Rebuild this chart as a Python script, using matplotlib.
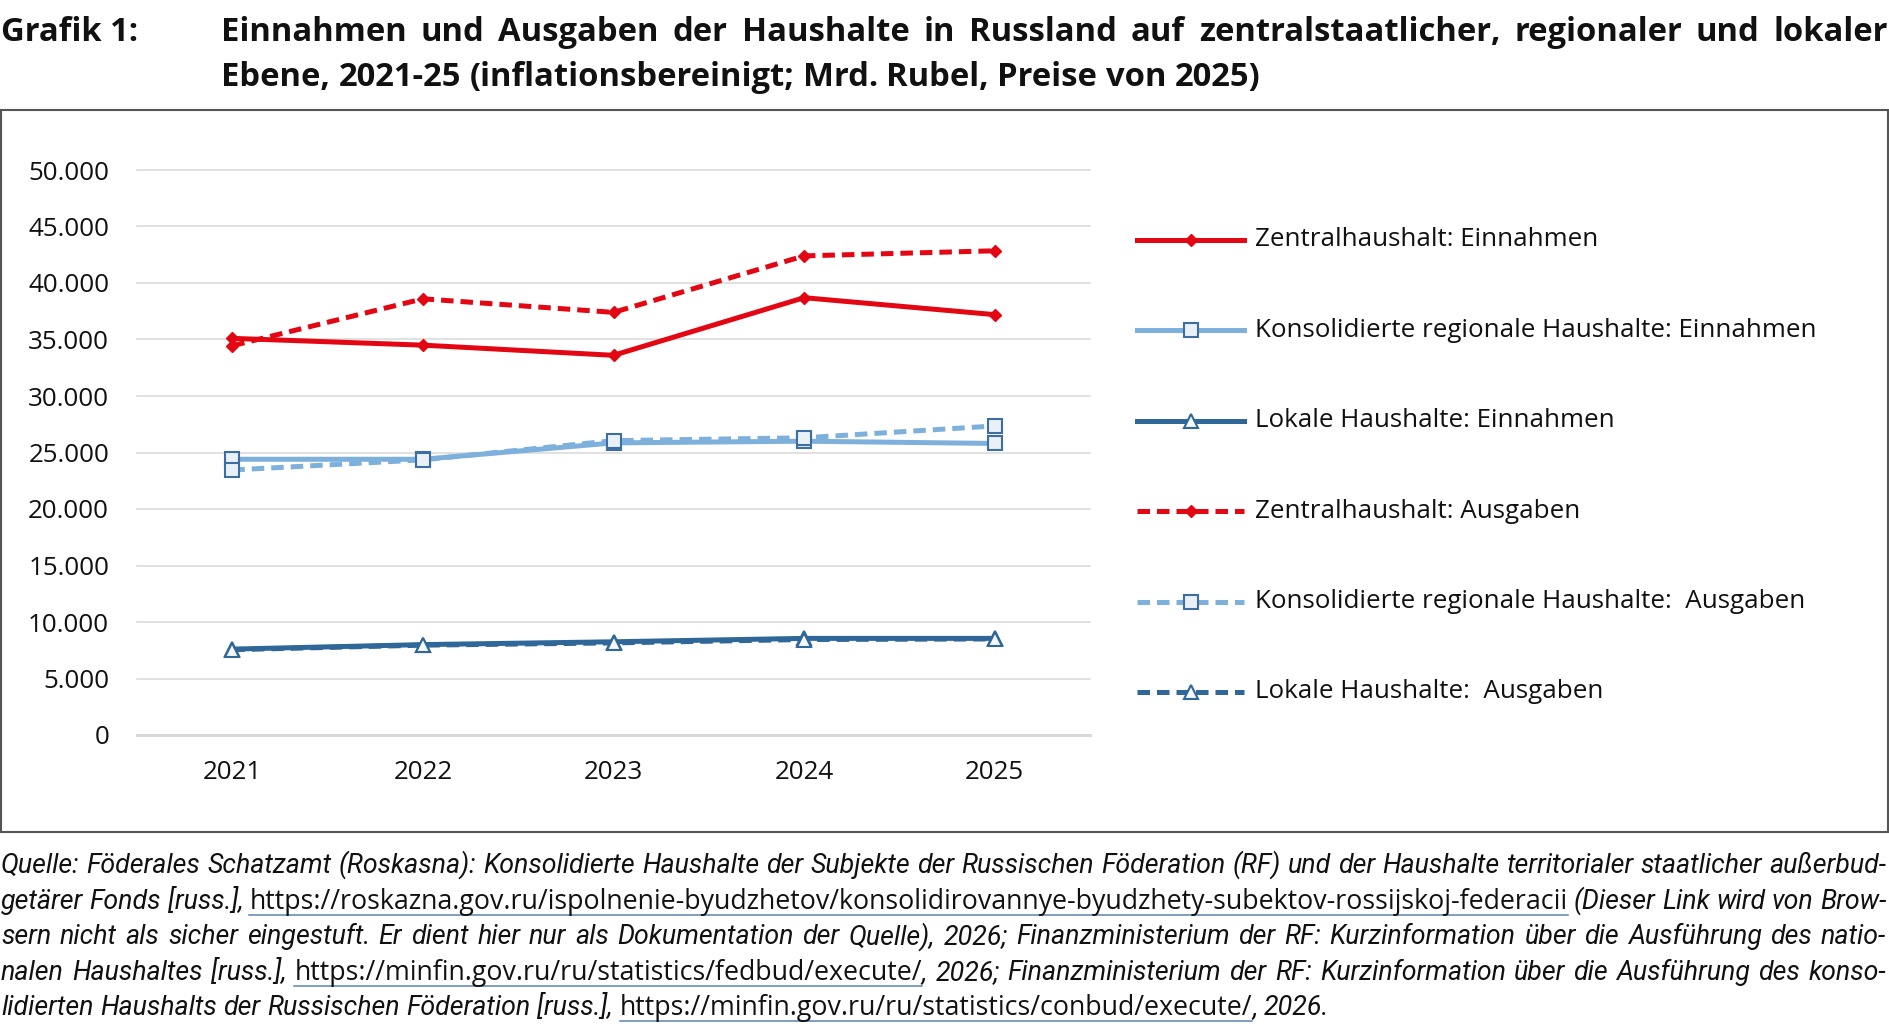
import matplotlib
matplotlib.use('Agg')
import matplotlib.pyplot as plt
from matplotlib.lines import Line2D
from matplotlib.patches import Rectangle
from matplotlib.transforms import IdentityTransform

# Werte (Mrd. Rubel, Preise von 2025)
years = ['2021', '2022', '2023', '2024', '2025']
zentral_einnahmen = [35100, 34500, 33600, 38700, 37200]
regional_einnahmen = [24400, 24400, 25850, 26000, 25800]
lokal_einnahmen = [7600, 8000, 8250, 8550, 8550]
zentral_ausgaben = [34450, 38600, 37400, 42400, 42850]
regional_ausgaben = [23450, 24350, 26050, 26300, 27350]
lokal_ausgaben = [7550, 7950, 8150, 8450, 8500]

series_labels = ['Zentralhaushalt: Einnahmen',
                 'Konsolidierte regionale Haushalte: Einnahmen',
                 'Lokale Haushalte: Einnahmen',
                 'Zentralhaushalt: Ausgaben',
                 'Konsolidierte regionale Haushalte:  Ausgaben',
                 'Lokale Haushalte:  Ausgaben']

title_lead = 'Grafik 1:'
title_line1 = 'Einnahmen und Ausgaben der Haushalte in Russland auf zentralstaatlicher, regionaler und lokaler'
title_line2 = 'Ebene, 2021-25 (inflationsbereinigt; Mrd. Rubel, Preise von 2025)'

# Quellenangabe: (Text, Stil) je Zeile
source_lines = [
    [('Quelle: Föderales Schatzamt (Roskasna): Konsolidierte Haushalte der Subjekte der Russischen '
      'Föderation (RF) und der Haushalte territorialer staatlicher außerbud-', 'it')],
    [('getärer Fonds [russ.], ', 'it'),
     ('https://roskazna.gov.ru/ispolnenie-byudzhetov/konsolidirovannye-byudzhety-subektov-rossijskoj-federacii', 'url'),
     (' (Dieser Link wird von Brow-', 'it')],
    [('sern nicht als sicher eingestuft. Er dient hier nur als Dokumentation der Quelle), 2026; '
      'Finanzministerium der RF: Kurzinformation über die Ausführung des natio-', 'it')],
    [('nalen Haushaltes [russ.], ', 'it'),
     ('https://minfin.gov.ru/ru/statistics/fedbud/execute/', 'url'),
     (', 2026; Finanzministerium der RF: Kurzinformation über die Ausführung des konso-', 'it')],
    [('lidierten Haushalts der Russischen Föderation [russ.], ', 'it'),
     ('https://minfin.gov.ru/ru/statistics/conbud/execute/', 'url'),
     (', 2026.', 'it')],
]

W, H = 1890, 1034
RED = '#E30613'
LIGHT = '#7EB0DC'
DARK = '#2F6798'

fig = plt.figure(figsize=(W / 100, H / 100), dpi=100)
ax = fig.add_axes([137 / W, 1 - 735 / H, (1090 - 137) / W, (735 - 170) / H])

solid = '-'
dashed = (0, (2.5, 1.4))
styles = [
    dict(color=RED, lw=3.6, ls=solid, marker='D', ms=6, mfc=RED, mec=RED),
    dict(color=LIGHT, lw=3.6, ls=solid, marker='s', ms=9.5, mfc='#EAF0F8', mec='#3C6DA3', mew=1.5),
    dict(color=DARK, lw=3.6, ls=solid, marker='^', ms=10, mfc='#F4F7FB', mec=DARK, mew=1.5),
    dict(color=RED, lw=3.6, ls=dashed, marker='D', ms=6, mfc=RED, mec=RED),
    dict(color=LIGHT, lw=3.6, ls=dashed, marker='s', ms=9.5, mfc='#EAF0F8', mec='#3C6DA3', mew=1.5),
    dict(color=DARK, lw=3.6, ls=dashed, marker='^', ms=10, mfc='#F4F7FB', mec=DARK, mew=1.5),
]
all_series = [zentral_einnahmen, regional_einnahmen, lokal_einnahmen,
              zentral_ausgaben, regional_ausgaben, lokal_ausgaben]

xs = list(range(len(years)))
for vals, st in zip(all_series, styles):
    ax.plot(xs, vals, zorder=3, **st)

ax.set_xlim(-0.5, len(years) - 0.5)
ax.set_ylim(0, 50000)
yt = list(range(0, 50001, 5000))
ax.set_yticks(yt)
ax.set_yticklabels([f'{v:,}'.replace(',', '.') for v in yt])
ax.set_xticks(xs)
ax.set_xticklabels(years)
ax.grid(axis='y', color='#d9d9d9', lw=1.1)
ax.set_axisbelow(True)
for gl in ax.get_ygridlines():
    gl.set_clip_on(False)
for s in ['top', 'left', 'right']:
    ax.spines[s].set_visible(False)
ax.spines['bottom'].set_color('#d9d9d9')
ax.spines['bottom'].set_linewidth(2.2)
tick_font = dict(family='Open Sans', size=18.7)
ax.tick_params(length=0)
ax.tick_params(axis='y', pad=20)
ax.tick_params(axis='x', pad=18)
for lab in ax.get_xticklabels() + ax.get_yticklabels():
    lab.set_fontfamily('Open Sans')
    lab.set_fontsize(18.7)
    lab.set_color('#111111')

px = IdentityTransform()

# Legende rechts neben dem Diagramm
for i, (st, lab) in enumerate(zip(styles, series_labels)):
    y = H - (240 + 90.4 * i)
    fig.add_artist(Line2D([1137, 1190.5, 1244], [y, y, y], transform=px, markevery=[1], **st))
    fig.text(1255, y, lab, transform=px, va='center', ha='left', color='#111111', **tick_font)

# Rahmen um das Diagramm
fig.add_artist(Rectangle((1, H - 832), 1887, 832 - 110, transform=px,
                         fill=False, ec='#555555', lw=1.5))

renderer = fig.canvas.get_renderer()

fonts = {
    'bold': dict(family='Open Sans', weight='bold', size=23.6, color='#111111'),
    'it': dict(family=['Liberation Sans Narrow', 'Roboto'], style='italic', size=19.3, color='#111111'),
    'url': dict(family='Open Sans', size=19.3, color='#111111'),
}


def to_words(segs):
    words = [[]]
    for text, style in segs:
        parts = text.split(' ')
        for i, p in enumerate(parts):
            if i > 0:
                words.append([])
            if p:
                words[-1].append((p, style))
    return [w for w in words if w]


def text_width(t):
    return t.get_window_extent(renderer).width


def space_width(style):
    a = fig.text(0, 0, 'n n', transform=px, **fonts[style])
    b = fig.text(0, 0, 'nn', transform=px, **fonts[style])
    w = text_width(a) - text_width(b)
    a.remove()
    b.remove()
    return w


def draw_line(segs, x0, x1, y, justify):
    words = to_words(segs)
    arts = []
    for w in words:
        arts.append([(fig.text(0, y, txt, transform=px, va='baseline', **fonts[st]), st) for txt, st in w])
    widths = [[text_width(t) for t, _ in a] for a in arts]
    total = sum(sum(ws) for ws in widths)
    if justify and len(words) > 1:
        gap = (x1 - x0 - total) / (len(words) - 1)
    else:
        gap = space_width(segs[0][1])
    x = x0
    for a, ws in zip(arts, widths):
        for (t, st), wd in zip(a, ws):
            t.set_x(x)
            if st == 'url':
                fig.add_artist(Line2D([x, x + wd], [y - 6, y - 6], transform=px,
                                      color='#5B84B8', lw=1.1))
            x += wd
        x += gap


# Titel
fig.text(1, H - 41, title_lead, transform=px, va='baseline', **fonts['bold'])
draw_line([(title_line1, 'bold')], 221, 1888, H - 41, True)
draw_line([(title_line2, 'bold')], 221, 1888, H - 86, False)

# Quelle
for i, segs in enumerate(source_lines):
    y = H - (873 + 35.6 * i)
    draw_line(segs, 1, 1886, y, i < len(source_lines) - 1)

fig.savefig('out.png', dpi=100, facecolor='white')
